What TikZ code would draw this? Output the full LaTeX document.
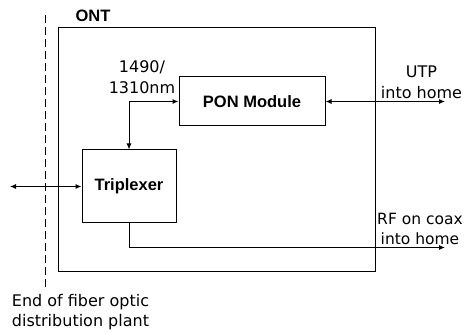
\documentclass[tikz,border=0pt]{standalone}
\usepackage{fontspec}
\setmainfont{DejaVu Sans}
\newfontfamily\boxfont{Liberation Sans}
\usetikzlibrary{arrows.meta}
\begin{document}
\begin{tikzpicture}[x=1pt,y=-1pt,
  line width=1pt,
  tip/.tip={Latex[length=6pt,width=5pt]},
  blockbox/.style={draw,rectangle,inner sep=0pt,font=\boxfont\bfseries\fontsize{16.5}{18}\selectfont},
  lbl/.style={inner sep=0pt,align=center,font=\fontsize{16}{20.5}\selectfont},
  conn/.style={draw}]
\useasboundingbox (0,0) rectangle (464,334);
% ONT enclosure
\node[draw,rectangle,minimum width=317pt,minimum height=244pt,inner sep=0pt] (ont) at (216.5,150) {};
\node[inner sep=0pt,font=\boxfont\bfseries\fontsize{16.5}{18}\selectfont] (ontlbl) at (93,15.5) {ONT};
% blocks
\node[blockbox,minimum width=146pt,minimum height=49pt] (pon) at (252,101.5) {PON Module};
\node[blockbox,minimum width=94pt,minimum height=73pt] (tri) at (129,186.5) {Triplexer};
% boundary
\coordinate (dtop) at (45,15);
\coordinate (dbot) at (45,290);
\draw[dash pattern=on 8pt off 4pt] (dtop) -- (dbot);
% end points
\coordinate (fiber) at (10,186.5);
\coordinate (utp) at (445,101.5);
\coordinate (rf) at (445,247.5);
% connectors
\draw[{tip}-{tip}] (tri.north) |- (pon.west);
\draw[{tip}-{tip}] (pon.east) -- (utp);
\draw[{tip}-{tip}] (fiber) -- (tri.west);
\draw[-{tip}] (tri.south) |- (rf);
% labels
\node[lbl] (wl) at (142,77) {1490/\\1310nm};
\node[lbl] (utplbl) at (421.5,82.5) {UTP\\into home};
\node[lbl,font=\fontsize{15.5}{20.5}\selectfont] (rflbl) at (420,229) {RF on coax\\into home};
\node[lbl] (endlbl) at (80.5,312) {End of fiber optic\\distribution plant};
\end{tikzpicture}
\end{document}
